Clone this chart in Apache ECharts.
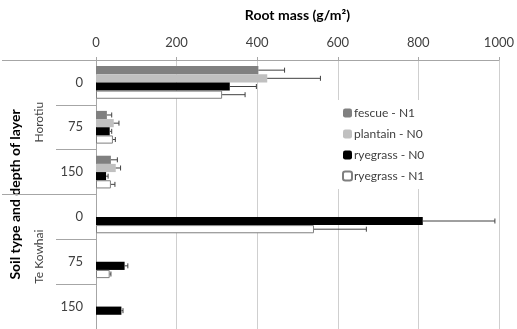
<!DOCTYPE html>
<html><head><meta charset="utf-8">
<script src="https://cdn.jsdelivr.net/npm/echarts@6/dist/echarts.min.js"></script>
<style>html,body{margin:0;padding:0;background:#fff}#c{width:517px;height:329px}</style>
</head><body><div id="c"></div>
<script>
const depths = ['0', '75', '150', '0', '75', '150'];
const soils = ['Horotiu', 'Te Kowhai'];
const seriesNames = ['fescue - N1', 'plantain - N0', 'ryegrass - N0', 'ryegrass - N1'];
const fescueN1 = [403, 27, 37, null, null, null];
const fescueN1Err = [65, 12, 16, null, null, null];
const plantainN0 = [425, 44, 49, null, null, null];
const plantainN0Err = [132, 13, 12, null, null, null];
const ryegrassN0 = [332, 34, 25, 811, 71, 63];
const ryegrassN0Err = [66, 5, 5, 179, 8, 4];
const ryegrassN1 = [313, 42, 37, 541, 34, null];
const ryegrassN1Err = [57, 6, 10, 130, 3, null];
const xTicks = [0, 200, 400, 600, 800, 1000];

const values = [fescueN1, plantainN0, ryegrassN0, ryegrassN1];
const errs = [fescueN1Err, plantainN0Err, ryegrassN0Err, ryegrassN1Err];
const styles = [
  {color: '#808080'},
  {color: '#c0c0c0'},
  {color: '#000000'},
  {color: '#ffffff', borderColor: '#7f7f7f', borderWidth: 1}
];
const FONT = 'Lato';
const GAP = 0.27;

function errRender(sIdx) {
  return function (params, api) {
    const v = api.value(0), e = api.value(1), c = api.value(2);
    if (v == null || isNaN(v) || e == null || isNaN(e)) return;
    const p0 = api.coord([v, c]);
    const p1 = api.coord([v + e, c]);
    const band = api.size([0, 1])[1];
    const bw = band * (1 - GAP) / 4;
    const y = p0[1] + (sIdx - 1.5) * bw;
    return {type: 'group', children: [
      {type: 'line', shape: {x1: p0[0], y1: y, x2: p1[0], y2: y}, style: {stroke: '#404040', lineWidth: 1}},
      {type: 'line', shape: {x1: p1[0], y1: y - 2.5, x2: p1[0], y2: y + 2.5}, style: {stroke: '#404040', lineWidth: 1}}
    ]};
  };
}

const series = [];
values.forEach((arr, i) => {
  series.push({
    name: seriesNames[i], type: 'bar', yAxisIndex: 0, data: arr,
    barGap: '0%', barCategoryGap: (GAP * 100) + '%',
    itemStyle: styles[i], z: 2, animation: false
  });
});
values.forEach((arr, i) => {
  series.push({
    name: seriesNames[i] + ' err', type: 'custom', yAxisIndex: 0, z: 3,
    renderItem: errRender(i), encode: {x: 0, y: 2},
    data: arr.map((v, k) => [v, errs[i][k], k]), animation: false, silent: true
  });
});

const chart = echarts.init(document.getElementById('c'));
chart.setOption({
  animation: false,
  textStyle: {fontFamily: FONT},
  grid: {left: 96, right: 14, top: 60, bottom: -11, containLabel: false},
  xAxis: {
    type: 'value', position: 'top', min: xTicks[0], max: xTicks[xTicks.length - 1], interval: 200,
    name: 'Root mass (g/m²)', nameLocation: 'middle', nameGap: 38,
    nameTextStyle: {fontFamily: FONT, fontSize: 14, fontWeight: 'bold', color: '#000'},
    axisLine: {show: true, lineStyle: {color: '#a6a6a6'}},
    axisTick: {show: true, length: 3, lineStyle: {color: '#a6a6a6'}},
    axisLabel: {fontFamily: FONT, fontSize: 13, color: '#404040', margin: 11, formatter: v => String(v)},
    splitLine: {show: true, lineStyle: {color: '#cfcfcf'}}
  },
  yAxis: [
    {
      type: 'category', data: depths, inverse: true,
      axisLine: {show: true, lineStyle: {color: '#a6a6a6'}},
      axisTick: {show: true, length: 40, lineStyle: {color: '#a6a6a6'}},
      axisLabel: {fontFamily: FONT, fontSize: 13, color: '#404040', margin: 13}
    },
    {
      type: 'category', data: soils, inverse: true, position: 'left',
      name: 'Soil type and depth of layer', nameLocation: 'middle', nameGap: 74, nameRotate: 90,
      nameTextStyle: {fontFamily: FONT, fontSize: 14, fontWeight: 'bold', color: '#000'},
      axisLine: {show: false},
      axisTick: {show: true, length: 94, lineStyle: {color: '#a6a6a6'}},
      axisLabel: {fontFamily: FONT, fontSize: 12, color: '#404040', rotate: 90, margin: 51, padding: [0, 0, 0, 10]}
    }
  ],
  legend: {
    data: seriesNames, orient: 'vertical', left: 336, top: 100,
    backgroundColor: '#fff', padding: [6, 8, 6, 6],
    itemWidth: 9, itemHeight: 9, itemGap: 7,
    textStyle: {fontFamily: FONT, fontSize: 12, color: '#404040', lineHeight: 14, padding: [0, 0, 0, -3]}
  },
  series: series
});
</script></body></html>
